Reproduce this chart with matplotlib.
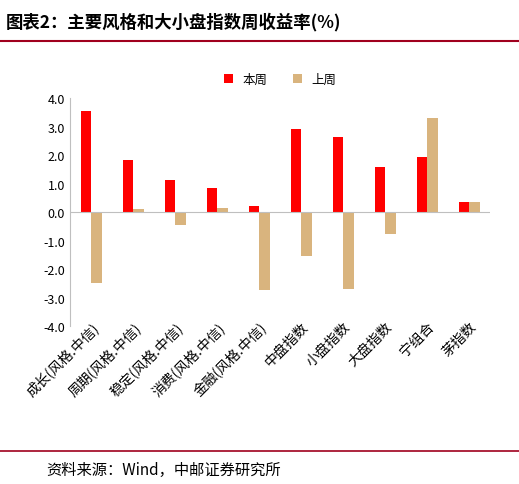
import matplotlib.pyplot as plt
import numpy as np

plt.rcParams['font.family'] = ['Noto Sans CJK SC', 'DejaVu Sans']

categories = ["成长(风格.中信)", "周期(风格.中信)", "稳定(风格.中信)", "消费(风格.中信)",
              "金融(风格.中信)", "中盘指数", "小盘指数", "大盘指数", "宁组合", "茅指数"]
this_week = [3.55, 1.85, 1.12, 0.87, 0.22, 2.92, 2.65, 1.58, 1.93, 0.38]
last_week = [-2.48, 0.12, -0.45, 0.15, -2.72, -1.52, -2.70, -0.75, 3.30, 0.35]

fig = plt.figure(figsize=(5.19, 4.85), dpi=100)
fig.text(0.012, 0.955, "图表2：主要风格和大小盘指数周收益率(%)", fontsize=12.5, fontweight='bold', va='center')
fig.add_artist(plt.Line2D([0.0, 1.0], [0.913, 0.913], color='#a0001e', lw=1.5))
fig.add_artist(plt.Line2D([0.0, 1.0], [0.068, 0.068], color='#a0001e', lw=1.2))
fig.text(0.09, 0.03, "资料来源：Wind，中邮证券研究所", fontsize=11, va='center')

ax = fig.add_axes([0.135, 0.325, 0.81, 0.47])
x = np.arange(len(categories))
w = 0.25
ax.bar(x - w / 2, this_week, w, color='#ff0000', label='本周')
ax.bar(x + w / 2, last_week, w, color='#d9b47e', label='上周')
ax.set_ylim(-4, 4)
ax.set_yticks(np.arange(-4, 4.1, 1))
ax.set_yticklabels([f"{v:.1f}" for v in np.arange(-4, 4.1, 1)], fontsize=9)
ax.set_xlim(-0.5, len(categories) - 0.5)
ax.set_xticks(x)
ax.set_xticklabels(categories, rotation=45, ha='right', rotation_mode='anchor', fontsize=10)
ax.tick_params(axis='x', length=0, pad=-5)
ax.tick_params(axis='y', length=0)
ax.spines['top'].set_visible(False)
ax.spines['right'].set_visible(False)
ax.spines['bottom'].set_visible(False)
ax.spines['left'].set_color('#bfbfbf')
ax.axhline(0, color='#bfbfbf', lw=0.8)
ax.legend(loc='upper center', bbox_to_anchor=(0.5, 1.16), ncol=2, frameon=False,
          fontsize=9, handlelength=0.7, handleheight=0.7)

fig.savefig("out.png", dpi=100)
